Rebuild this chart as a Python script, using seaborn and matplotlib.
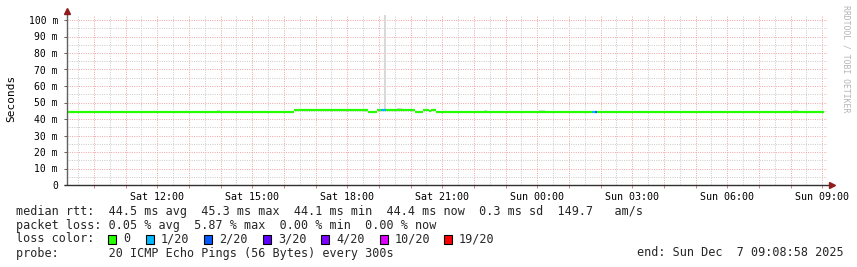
import matplotlib
matplotlib.use("Agg")
import matplotlib.pyplot as plt
from matplotlib.patches import Rectangle
import numpy as np
import pandas as pd
import seaborn as sns

# ---------------- data ----------------
# time axis in hours counted from Sat 00:00 (24 = Sun 00:00)
t_start = 9 + 8 / 60 + 58 / 3600      # Sat 09:08:58
t_end = t_start + 24                  # Sun 09:08:58

# median rtt segments (ms) and their packet loss class
seg_start = [9.15, 16.32, 18.65, 18.94, 19.07, 19.22, 20.14, 20.39, 20.58, 20.64,
             20.80, 24.81, 25.73, 25.82, 25.89, 27.15, 27.65, 30.15, 30.31, 30.91, 31.07]
seg_end = [16.32, 18.65, 18.94, 19.07, 19.22, 20.14, 20.39, 20.58, 20.64, 20.80,
           24.81, 25.73, 25.82, 25.89, 27.15, 27.65, 30.15, 30.31, 30.91, 31.07, 33.04]
seg_ms = [44.4, 45.3, 44.4, 45.3, 45.3, 45.3, 44.5, 45.3, 44.6, 45.3,
          44.4, 44.1, 44.1, 44.1, 44.1, 44.2, 44.4, 44.1, 44.4, 44.1, 44.4]
seg_loss = ["0", "0", "0", "0", "1/20", "0", "0", "0", "0", "0",
            "0", "0", "1/20", "2/20", "0", "0", "0", "0", "0", "0", "0"]

# smoke (spread of individual pings)
smoke_start = [13.88, 17.08, 18.47, 19.15, 19.57, 22.32, 24.05, 32.07]
smoke_end = [13.97, 17.24, 18.65, 19.22, 19.73, 22.41, 24.24, 32.23]
smoke_low = [44.4, 45.3, 44.4, 45.3, 45.3, 44.4, 44.4, 44.4]
smoke_high = [45.2, 46.0, 45.9, 104.0, 46.6, 45.3, 45.3, 45.3]

loss_labels = ["0", "1/20", "2/20", "3/20", "4/20", "10/20", "19/20"]
loss_colors = ["#26ff00", "#00b8ff", "#0059ff", "#5e00ff", "#7e00ff", "#dd00ff", "#ff0000"]

y_ticks = [0, 10, 20, 30, 40, 50, 60, 70, 80, 90, 100]
y_tick_labels = ["0", "10 m", "20 m", "30 m", "40 m", "50 m", "60 m", "70 m", "80 m", "90 m", "100 m"]
x_ticks = [12, 15, 18, 21, 24, 27, 30, 33]
x_tick_labels = ["Sat 12:00", "Sat 15:00", "Sat 18:00", "Sat 21:00",
                 "Sun 00:00", "Sun 03:00", "Sun 06:00", "Sun 09:00"]

line_rtt = "median rtt:  44.5 ms avg  45.3 ms max  44.1 ms min  44.4 ms now  0.3 ms sd  149.7   am/s"
line_loss = "packet loss: 0.05 % avg  5.87 % max  0.00 % min  0.00 % now"
line_color = "loss color:"
line_probe = "probe:       20 ICMP Echo Pings (56 Bytes) every 300s"
line_end = "end: Sun Dec  7 09:08:58 2025"

# ---------------- figure ----------------
W, H = 857, 267
MONO = "DejaVu Sans Mono"
sns.set_style("white")
plt.rcParams["font.family"] = [MONO, "DejaVu Sans"]

fig = plt.figure(figsize=(W / 100, H / 100), dpi=100)
fig.patch.set_facecolor("white")

ax_l, ax_r, ax_b, ax_t = 67, 827, 185, 15
ax = fig.add_axes([ax_l / W, 1 - ax_b / H, (ax_r - ax_l) / W, (ax_b - ax_t) / H])
ax.set_facecolor("white")
ymax = (ax_b - ax_t) / 1.65
ax.set_xlim(t_start, t_end)
ax.set_ylim(0, ymax)

dot = (0, (1, 1.3))
grid_minor = "#cccccc"
grid_major = "#f0a8a8"
# vertical grid
half_hours = np.arange(9.5, 33.2, 0.5)
for h in half_hours:
    major = abs(h - round(h)) < 1e-6
    ax.axvline(h, color=grid_major if major else grid_minor, lw=0.72, ls=dot, zorder=0.5)
# horizontal grid
for v in np.arange(5, 103, 5):
    major = v % 10 == 0
    ax.axhline(v, color=grid_major if major else grid_minor, lw=0.72, ls=dot, zorder=0.5)

# smoke
for s, e, lo, hi in zip(smoke_start, smoke_end, smoke_low, smoke_high):
    ax.fill_between([s, e], [lo, lo], [hi, hi], color="#d9d9d9", lw=0, zorder=1)

# median line coloured by loss
rows = []
for i, (s, e, v, l) in enumerate(zip(seg_start, seg_end, seg_ms, seg_loss)):
    rows.append({"seg": i, "hour": s, "ms": v, "loss": l})
    rows.append({"seg": i, "hour": e, "ms": v, "loss": l})
df = pd.DataFrame(rows)
palette = dict(zip(loss_labels, loss_colors))
sns.lineplot(data=df, x="hour", y="ms", hue="loss", units="seg", estimator=None,
             palette={k: palette[k] for k in df["loss"].unique()}, legend=False,
             linewidth=1.6, solid_capstyle="butt", sort=False, ax=ax, zorder=2)

ax.set_xlabel("")
ax.set_ylabel("")
for sp in ax.spines.values():
    sp.set_visible(False)

# axes lines with arrows
ax.plot([0, 0], [0, 1 + 5 / 170], transform=ax.transAxes, color="#606060", lw=1.0,
        clip_on=False, zorder=3, solid_capstyle="butt")
ax.plot([-3 / 760, 1 + 4 / 760], [0, 0], transform=ax.transAxes, color="#303030", lw=1.0,
        clip_on=False, zorder=3, solid_capstyle="butt")
ax.plot([0], [1 + (ax_t - 10.5) / 170], marker="^", color="#8f1d1d", markersize=4.5,
        transform=ax.transAxes, clip_on=False, zorder=4, linestyle="none")
ax.plot([1 + 5 / 760], [0], marker=">", color="#8f1d1d", markersize=4.5,
        transform=ax.transAxes, clip_on=False, zorder=4, linestyle="none")

# ticks
ax.set_xticks(x_ticks)
ax.set_xticklabels(x_tick_labels, fontsize=7.2, family=MONO, color="#000000")
ax.set_xticks(np.arange(10, 34, 1), minor=True)
ax.tick_params(axis="x", which="both", direction="out", length=2, width=0.7,
               color="#d08080", pad=3.2, bottom=True)
ax.set_yticks(y_ticks)
ax.set_yticklabels(y_tick_labels, fontsize=7.0, family=MONO, color="#000000")
ax.tick_params(axis="y", which="major", direction="out", length=2, width=0.7,
               color="#606060", pad=4.5, left=True)

# y label and watermark
fig.text(11 / W, 1 - 98 / H, "Seconds", rotation=90, ha="center", va="center",
         fontsize=8, family=MONO, color="#000000")
fig.text(846 / W, 1 - 59 / H, "RRDTOOL / TOBI OETIKER", rotation=270, ha="center",
         va="center", fontsize=5.9, family=MONO, color="#b4b4b4")

# legend / comments
fs = 8.5
fig.text(16 / W, 1 - 211 / H, line_rtt, ha="left", va="center", fontsize=fs, family=MONO)
fig.text(16 / W, 1 - 225 / H, line_loss, ha="left", va="center", fontsize=fs, family=MONO)
fig.text(16 / W, 1 - 239 / H, line_color, ha="left", va="center", fontsize=fs, family=MONO)
fig.text(16 / W, 1 - 253 / H, line_probe, ha="left", va="center", fontsize=fs, family=MONO)
fig.text(844 / W, 1 - 253 / H, line_end, ha="right", va="center", fontsize=fs, family=MONO)

box_x = [108, 146, 204, 263, 321, 380, 444]
for bx, lab, col in zip(box_x, loss_labels, loss_colors):
    fig.patches.append(Rectangle((bx / W, 1 - 243.5 / H), 8 / W, 9 / H,
                                 transform=fig.transFigure, facecolor=col,
                                 edgecolor="#000000", lw=0.8))
    fig.text((bx + 15) / W, 1 - 239 / H, lab, ha="left", va="center", fontsize=fs, family=MONO)

fig.savefig("out.png", dpi=100, facecolor="white")
